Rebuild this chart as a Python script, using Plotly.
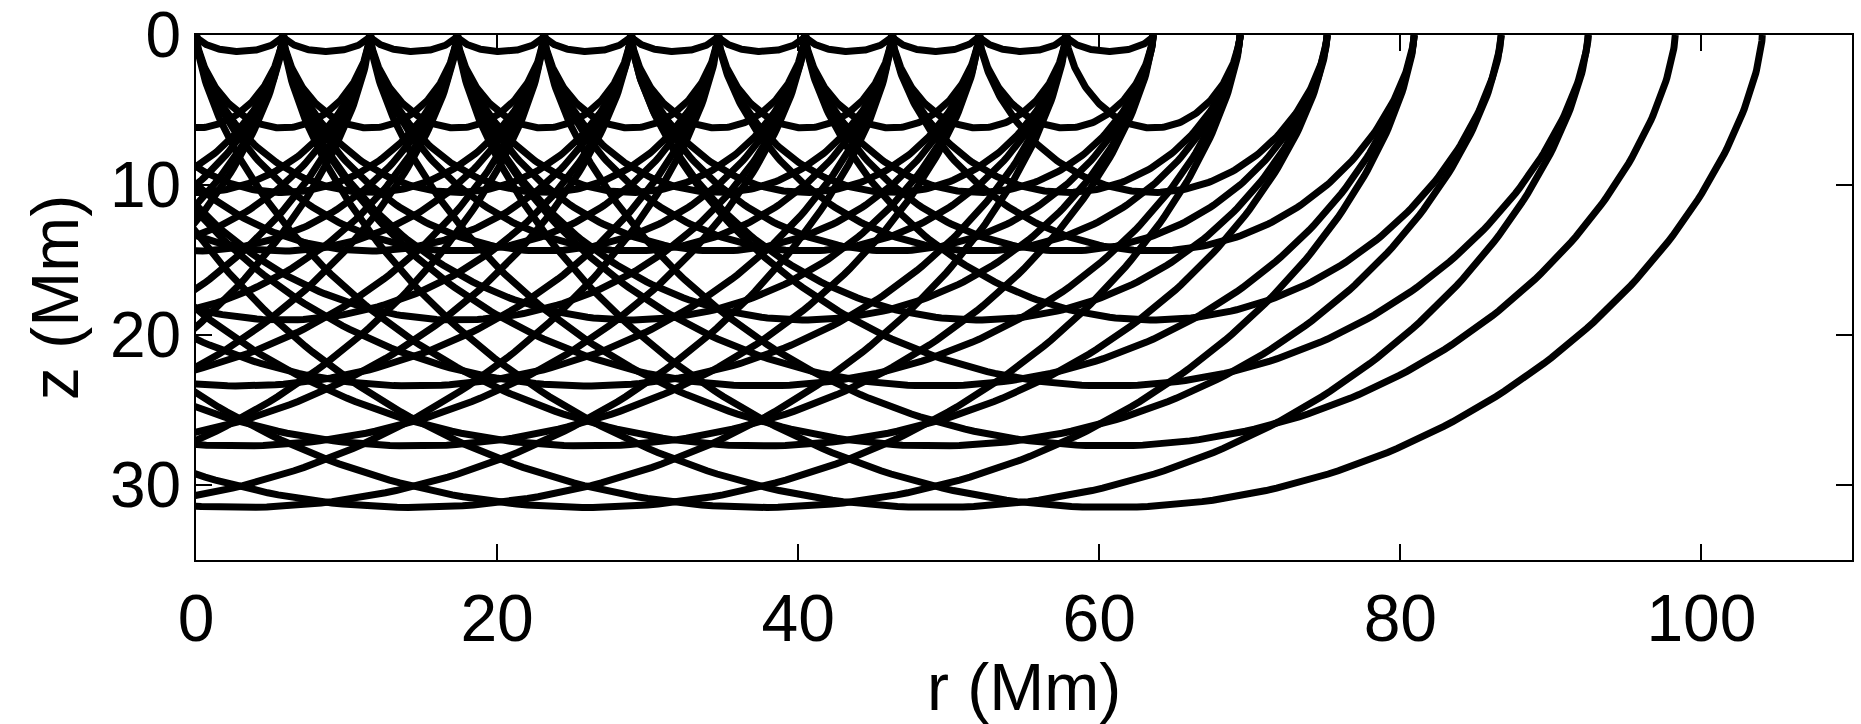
import numpy as np
import plotly.graph_objects as go

# lattice spacing of surface bounce points (Mm)
lattice = 5.78
# turning depths of the ray families (Mm)
depths = [1.1, 6.2, 10.5, 14.4, 19.0, 23.4, 27.4, 31.5]
# skip distance of each family in lattice units
skips = [1, 2, 4, 6, 8, 11, 13, 15]
# lattice index of the right-most surface point of each family
ends = [11, 12, 13, 14, 15, 16, 17, 18]
# spacing (lattice units) between neighbouring rays of a family
strides = [1, 1, 1, 1, 2, 2, 2, 2]

xs, zs = [], []
phi = np.linspace(0, 2 * np.pi, 240)
for D, n, E, s in zip(depths, skips, ends, strides):
    left = E - n
    while left + n > 0:
        x = lattice * (left + n * (phi - np.sin(phi)) / (2 * np.pi))
        z = D * (1 - np.cos(phi)) / 2
        xs.extend(list(x) + [None])
        zs.extend(list(z) + [None])
        left -= s

fig = go.Figure()
fig.add_trace(go.Scatter(x=xs, y=zs, mode="lines",
                         line=dict(color="black", width=7),
                         hoverinfo="skip"))

font = dict(family="Liberation Sans, Arial, sans-serif", size=66, color="black")
yfont = dict(family="Liberation Sans, Arial, sans-serif", size=64, color="black")
fig.update_layout(
    width=1861, height=724,
    margin=dict(l=196, r=9, t=35, b=164, autoexpand=False),
    plot_bgcolor="white", paper_bgcolor="white",
    showlegend=False, font=font,
)
fig.update_xaxes(range=[0, 110], tickvals=[0, 20, 40, 60, 80, 100],
                 ticks="inside", ticklen=16, tickwidth=1.5, tickcolor="black",
                 showline=True, linecolor="black", linewidth=2, mirror="ticks",
                 showgrid=False, zeroline=False, tickfont=font,
                 ticklabeloverflow="allow", automargin=False,
                 title=dict(text="r (Mm)", font=font, standoff=4))
fig.update_yaxes(range=[35, 0], tickvals=[0, 10, 20, 30],
                 ticks="inside", ticklen=16, tickwidth=1.5, tickcolor="black",
                 showline=True, linecolor="black", linewidth=2, mirror="ticks",
                 showgrid=False, zeroline=False, tickfont=yfont,
                 ticklabeloverflow="allow", automargin=False,
                 title=dict(text="z (Mm)", font=font, standoff=10))
fig.write_html("out.html")
